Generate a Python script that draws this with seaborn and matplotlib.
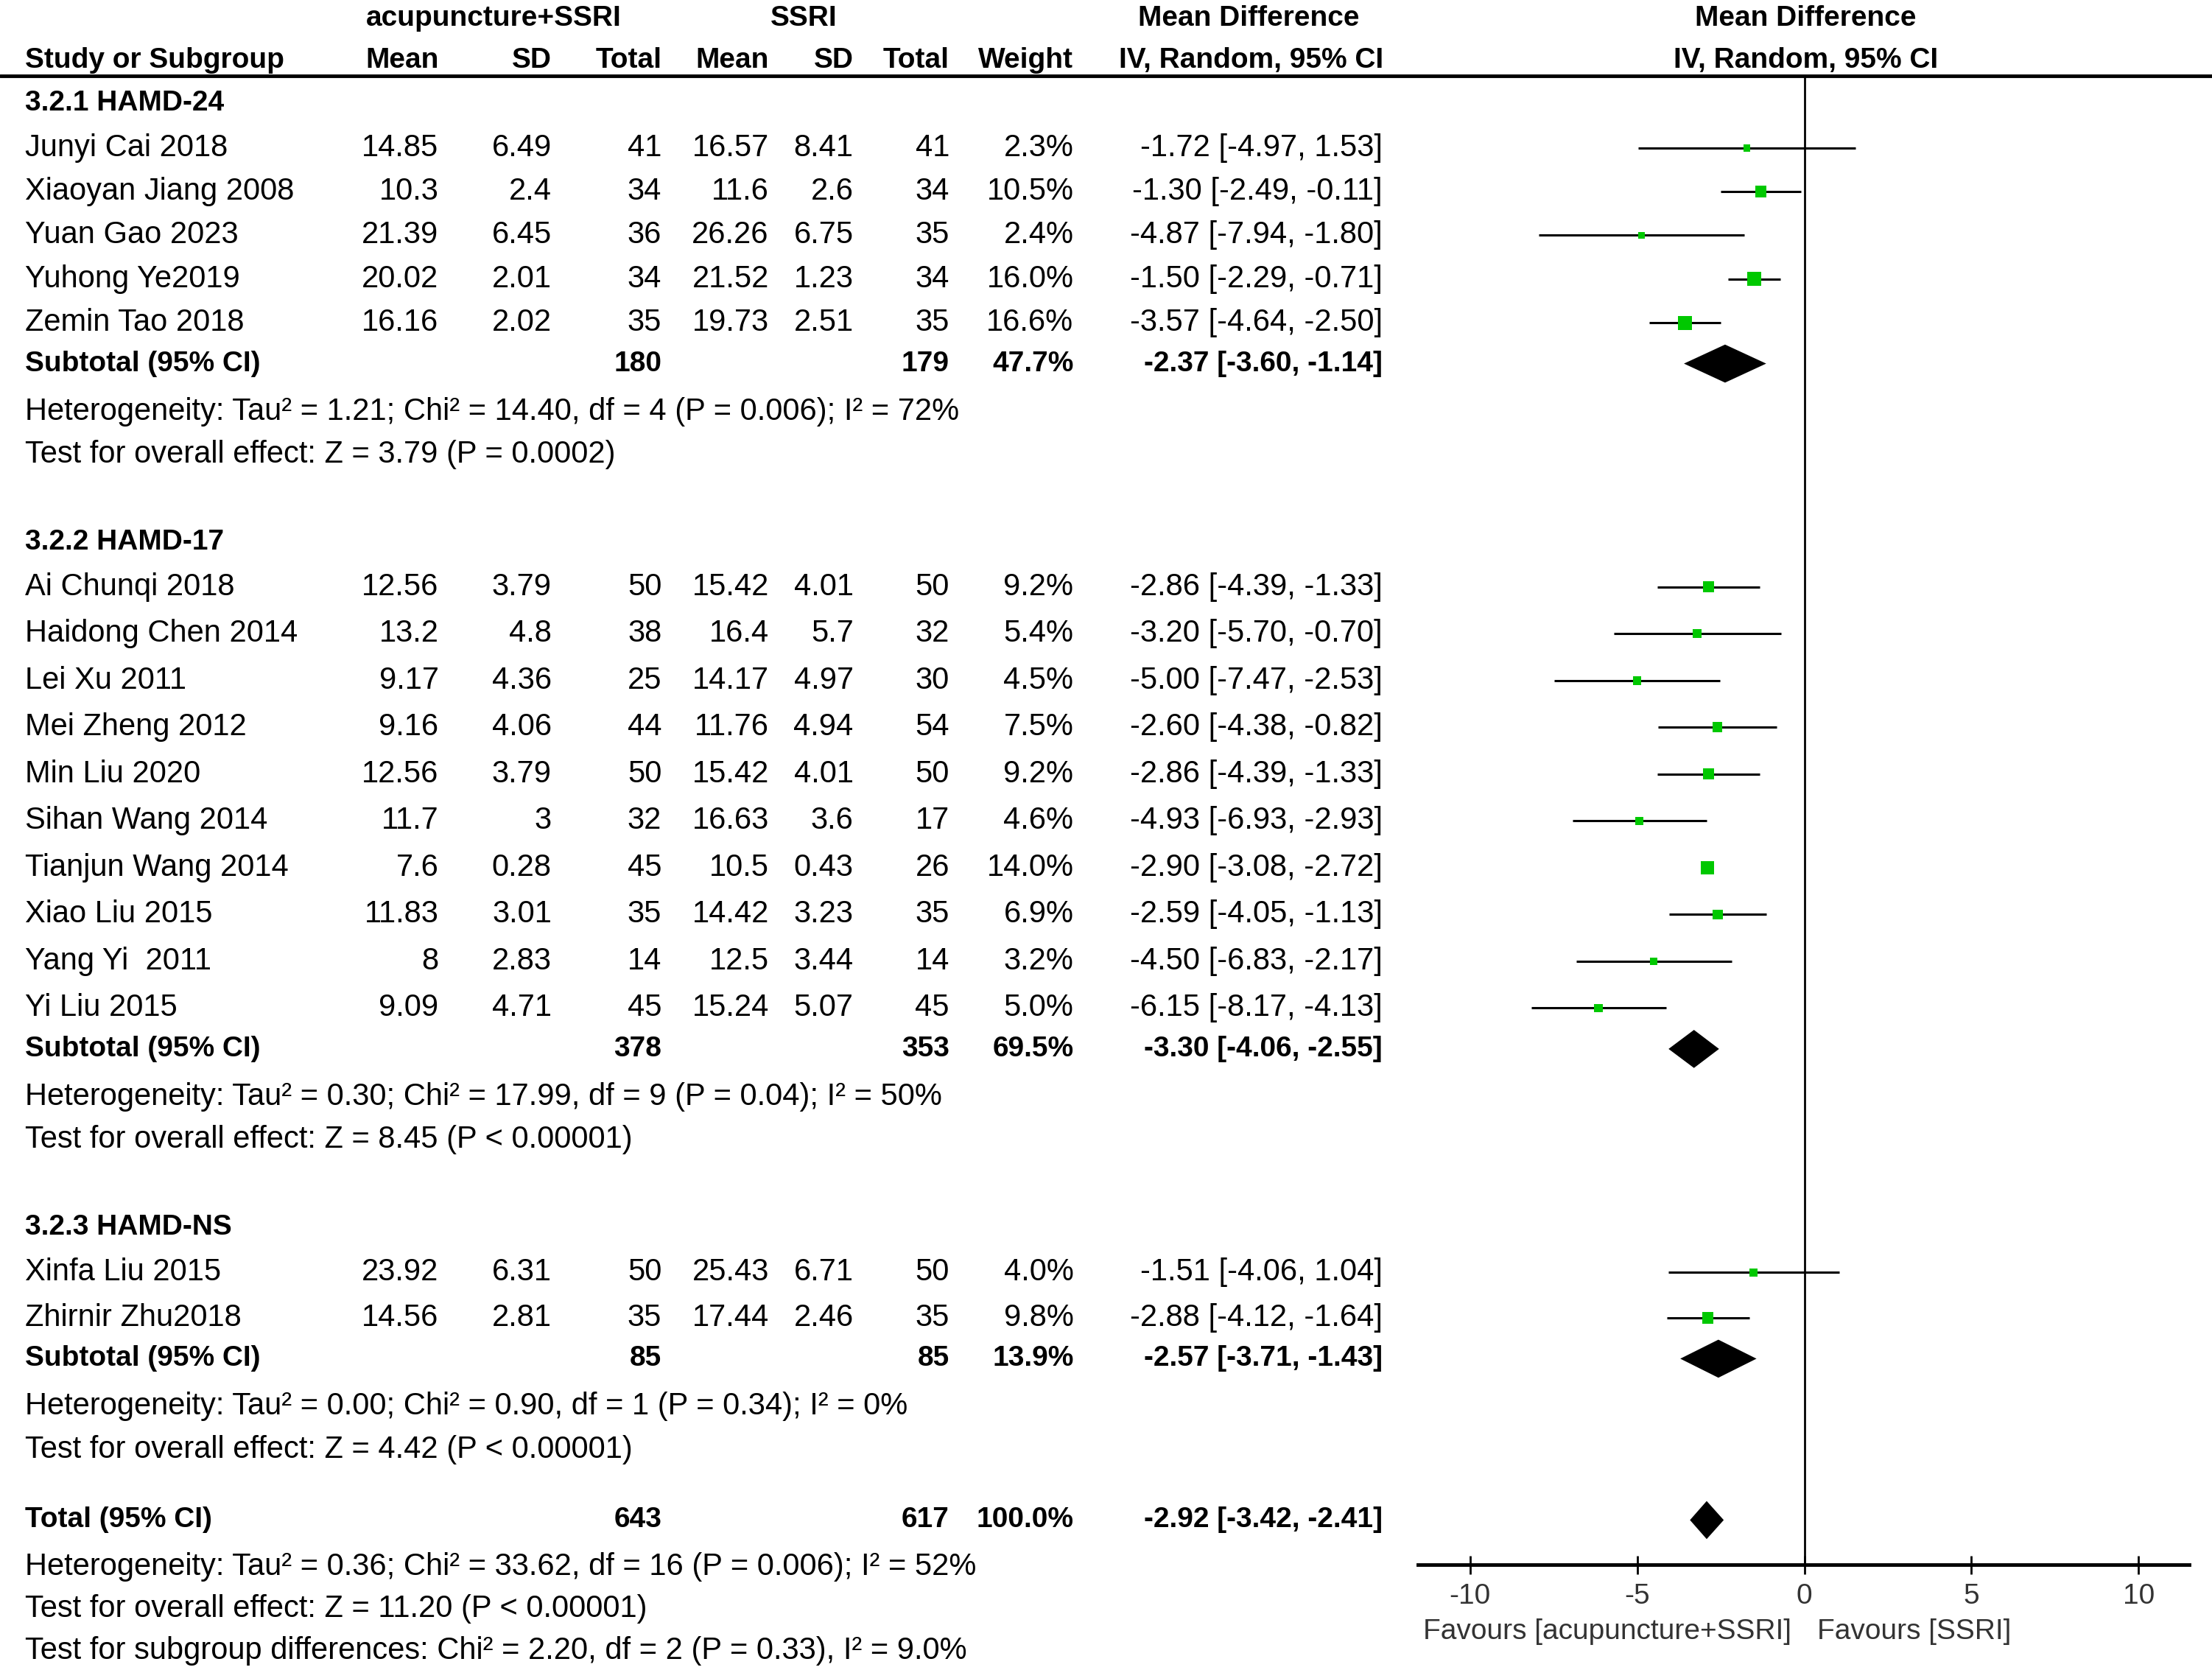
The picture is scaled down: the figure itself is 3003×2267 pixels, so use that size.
import matplotlib
matplotlib.use("Agg")
import matplotlib.pyplot as plt
import pandas as pd
import seaborn as sns

# ---- data ----
studies = ["Junyi Cai 2018", "Xiaoyan Jiang 2008", "Yuan Gao 2023", "Yuhong Ye2019", "Zemin Tao 2018",
           "Ai Chunqi 2018", "Haidong Chen 2014", "Lei Xu 2011", "Mei Zheng 2012", "Min Liu 2020",
           "Sihan Wang 2014", "Tianjun Wang 2014", "Xiao Liu 2015", "Yang Yi  2011", "Yi Liu 2015",
           "Xinfa Liu 2015", "Zhirnir Zhu2018"]
group = [0] * 5 + [1] * 10 + [2] * 2
exp_mean = [14.85, 10.3, 21.39, 20.02, 16.16, 12.56, 13.2, 9.17, 9.16, 12.56, 11.7, 7.6, 11.83, 8, 9.09, 23.92, 14.56]
exp_sd = [6.49, 2.4, 6.45, 2.01, 2.02, 3.79, 4.8, 4.36, 4.06, 3.79, 3, 0.28, 3.01, 2.83, 4.71, 6.31, 2.81]
exp_n = [41, 34, 36, 34, 35, 50, 38, 25, 44, 50, 32, 45, 35, 14, 45, 50, 35]
ctl_mean = [16.57, 11.6, 26.26, 21.52, 19.73, 15.42, 16.4, 14.17, 11.76, 15.42, 16.63, 10.5, 14.42, 12.5, 15.24, 25.43, 17.44]
ctl_sd = [8.41, 2.6, 6.75, 1.23, 2.51, 4.01, 5.7, 4.97, 4.94, 4.01, 3.6, 0.43, 3.23, 3.44, 5.07, 6.71, 2.46]
ctl_n = [41, 34, 35, 34, 35, 50, 32, 30, 54, 50, 17, 26, 35, 14, 45, 50, 35]
weight = [2.3, 10.5, 2.4, 16.0, 16.6, 9.2, 5.4, 4.5, 7.5, 9.2, 4.6, 14.0, 6.9, 3.2, 5.0, 4.0, 9.8]
md = [-1.72, -1.30, -4.87, -1.50, -3.57, -2.86, -3.20, -5.00, -2.60, -2.86, -4.93, -2.90, -2.59, -4.50, -6.15, -1.51, -2.88]
md_lo = [-4.97, -2.49, -7.94, -2.29, -4.64, -4.39, -5.70, -7.47, -4.38, -4.39, -6.93, -3.08, -4.05, -6.83, -8.17, -4.06, -4.12]
md_hi = [1.53, -0.11, -1.80, -0.71, -2.50, -1.33, -0.70, -2.53, -0.82, -1.33, -2.93, -2.72, -1.13, -2.17, -4.13, 1.04, -1.64]

sub_names = ["3.2.1 HAMD-24", "3.2.2 HAMD-17", "3.2.3 HAMD-NS"]
sub_exp_n = [180, 378, 85]
sub_ctl_n = [179, 353, 85]
sub_weight = [47.7, 69.5, 13.9]
sub_md = [-2.37, -3.30, -2.57]
sub_lo = [-3.60, -4.06, -3.71]
sub_hi = [-1.14, -2.55, -1.43]
sub_het = ["Heterogeneity: Tau² = 1.21; Chi² = 14.40, df = 4 (P = 0.006); I² = 72%",
           "Heterogeneity: Tau² = 0.30; Chi² = 17.99, df = 9 (P = 0.04); I² = 50%",
           "Heterogeneity: Tau² = 0.00; Chi² = 0.90, df = 1 (P = 0.34); I² = 0%"]
sub_test = ["Test for overall effect: Z = 3.79 (P = 0.0002)",
            "Test for overall effect: Z = 8.45 (P < 0.00001)",
            "Test for overall effect: Z = 4.42 (P < 0.00001)"]

total_exp_n, total_ctl_n, total_weight = 643, 617, 100.0
total_md, total_lo, total_hi = -2.92, -3.42, -2.41
total_notes = ["Heterogeneity: Tau² = 0.36; Chi² = 33.62, df = 16 (P = 0.006); I² = 52%",
               "Test for overall effect: Z = 11.20 (P < 0.00001)",
               "Test for subgroup differences: Chi² = 2.20, df = 2 (P = 0.33), I² = 9.0%"]

xticks = [-10, -5, 0, 5, 10]

# ---- layout (canvas units, 1568 x 1185) ----
W, H = 1568, 1185
X_NAME, X_EM, X_ESD, X_EN, X_CM, X_CSD, X_CN, X_W, X_MD = 18, 311, 391, 469, 545, 605, 673, 761, 980
PLOT_LEFT, PLOT_RIGHT, PLOT_TOP, AXIS_Y = 1005, 1552, 54, 1110
ZERO_X, PX_PER_UNIT = 1279, 23.7
GREEN = "#00c800"
FS, FSB = 30, 28
study_step = [31, 33.2, 32.3]

sns.set_theme(style="white")
plt.rcParams["font.family"] = ["Liberation Sans", "DejaVu Sans"]

fig = plt.figure(figsize=(30.03, 22.67), dpi=100)
bg = fig.add_axes([0, 0, 1, 1])
bg.set_xlim(0, W)
bg.set_ylim(H, 0)
bg.axis("off")

# row positions
rows = {"study": [], "sub": [], "het": [], "test": [], "head": []}
y = 73
for g in range(3):
    rows["head"].append(y)
    y += 32
    n = group.count(g)
    for i in range(n):
        rows["study"].append(y)
        if i < n - 1:
            y += study_step[g]
    y += 29
    rows["sub"].append(y)
    y += 34
    rows["het"].append(y)
    y += 30.5
    rows["test"].append(y)
    y += 62
y_total = rows["test"][-1] + 50
y_total_notes = [y_total + 33, y_total + 63, y_total + 93]


def txt(x, y, s, ha="right", bold=False, color="black", size=None):
    bg.text(x, y, s, ha=ha, va="center", color=color,
            fontsize=size or (FSB if bold else FS), fontweight="bold" if bold else "normal")


def ci_text(m, lo, hi):
    return f"{m:.2f} [{lo:.2f}, {hi:.2f}]"


# headers
txt(350, 13, "acupuncture+SSRI", ha="center", bold=True)
txt(570, 13, "SSRI", ha="center", bold=True)
txt(885, 13, "Mean Difference", ha="center", bold=True)
txt(1280, 13, "Mean Difference", ha="center", bold=True)
txt(X_NAME, 43, "Study or Subgroup", ha="left", bold=True)
for x, s in [(X_EM, "Mean"), (X_ESD, "SD"), (X_EN, "Total"), (X_CM, "Mean"),
             (X_CSD, "SD"), (X_CN, "Total"), (X_W, "Weight")]:
    txt(x, 43, s, bold=True)
txt(887, 43, "IV, Random, 95% CI", ha="center", bold=True)
txt(1280, 43, "IV, Random, 95% CI", ha="center", bold=True)
bg.axhline(PLOT_TOP, color="black", lw=3.5)

# study rows
for i, name in enumerate(studies):
    yy = rows["study"][i]
    txt(X_NAME, yy, name, ha="left")
    txt(X_EM, yy, f"{exp_mean[i]:g}")
    txt(X_ESD, yy, f"{exp_sd[i]:g}")
    txt(X_EN, yy, f"{exp_n[i]}")
    txt(X_CM, yy, f"{ctl_mean[i]:g}")
    txt(X_CSD, yy, f"{ctl_sd[i]:g}")
    txt(X_CN, yy, f"{ctl_n[i]}")
    txt(X_W, yy, f"{weight[i]:.1f}%")
    txt(X_MD, yy, ci_text(md[i], md_lo[i], md_hi[i]))

for g in range(3):
    txt(X_NAME, rows["head"][g], sub_names[g], ha="left", bold=True)
    ys = rows["sub"][g]
    txt(X_NAME, ys, "Subtotal (95% CI)", ha="left", bold=True)
    txt(X_EN, ys, f"{sub_exp_n[g]}", bold=True)
    txt(X_CN, ys, f"{sub_ctl_n[g]}", bold=True)
    txt(X_W, ys, f"{sub_weight[g]:.1f}%", bold=True)
    txt(X_MD, ys, ci_text(sub_md[g], sub_lo[g], sub_hi[g]), bold=True)
    txt(X_NAME, rows["het"][g], sub_het[g], ha="left")
    txt(X_NAME, rows["test"][g], sub_test[g], ha="left")

txt(X_NAME, y_total, "Total (95% CI)", ha="left", bold=True)
txt(X_EN, y_total, f"{total_exp_n}", bold=True)
txt(X_CN, y_total, f"{total_ctl_n}", bold=True)
txt(X_W, y_total, f"{total_weight:.1f}%", bold=True)
txt(X_MD, y_total, ci_text(total_md, total_lo, total_hi), bold=True)
for yy, s in zip(y_total_notes, total_notes):
    txt(X_NAME, yy, s, ha="left")

txt(1270, 1158, "Favours [acupuncture+SSRI]", color="#333333", size=28)
txt(1288, 1158, "Favours [SSRI]", ha="left", color="#333333", size=28)

# ---- forest panel ----
ax = fig.add_axes([PLOT_LEFT / W, (H - AXIS_Y) / H,
                   (PLOT_RIGHT - PLOT_LEFT) / W, (AXIS_Y - PLOT_TOP) / H])
ax.set_facecolor("none")

df = pd.DataFrame({"md": md, "lo": md_lo, "hi": md_hi, "weight": weight, "y": rows["study"]})
ax.hlines(df["y"], df["lo"], df["hi"], color="black", lw=2.2, zorder=2)
sns.scatterplot(data=df, x="md", y="y", size="weight", sizes=(45, 190), marker="s",
                color=GREEN, edgecolor=GREEN, linewidth=0, legend=False, ax=ax, zorder=3)

DIAMOND_H = 27
for m, lo, hi, yy in list(zip(sub_md, sub_lo, sub_hi, rows["sub"])) + [(total_md, total_lo, total_hi, y_total)]:
    ax.fill([lo, m, hi, m], [yy, yy - DIAMOND_H / 2, yy, yy + DIAMOND_H / 2], color="black", lw=0, zorder=3)

ax.axvline(0, color="black", lw=2, zorder=1)
ax.set_xlim((PLOT_LEFT - ZERO_X) / PX_PER_UNIT, (PLOT_RIGHT - ZERO_X) / PX_PER_UNIT)
ax.set_ylim(AXIS_Y, PLOT_TOP)
ax.set_xticks(xticks)
ax.set_xticklabels([f"{t}" for t in xticks])
ax.set_yticks([])
ax.set_xlabel("")
ax.set_ylabel("")
for side in ["left", "right", "top"]:
    ax.spines[side].set_visible(False)
ax.spines["bottom"].set_linewidth(3.5)
ax.spines["bottom"].set_color("black")
ax.tick_params(axis="x", direction="inout", length=18, width=2, color="black",
               labelsize=28, labelcolor="#333333", pad=9, bottom=True)

fig.savefig("out.png", dpi=100)
